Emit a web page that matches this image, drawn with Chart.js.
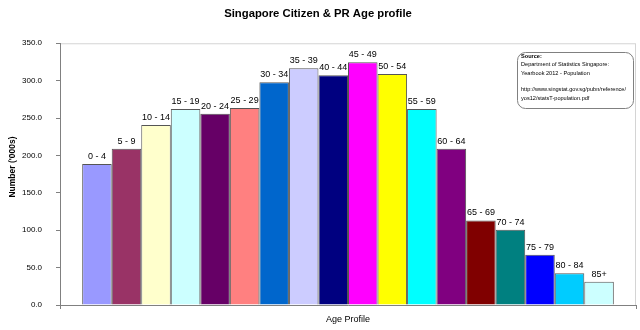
<!DOCTYPE html>
<html>
<head>
<meta charset="utf-8">
<script src="https://cdn.jsdelivr.net/npm/chart.js@4/dist/chart.umd.min.js"></script>
<style>
html,body{margin:0;padding:0;background:#fff;}
#wrap{width:640px;height:330px;}
</style>
</head>
<body>
<div id="wrap"><canvas id="ageChart"></canvas></div>
<script>
// Singapore Citizen & PR population by age group ('000s)

const ageGroups = [
"0 - 4","5 - 9","10 - 14","15 - 19","20 - 24","25 - 29",
"30 - 34","35 - 39","40 - 44","45 - 49","50 - 54","55 - 59",
"60 - 64","65 - 69","70 - 74","75 - 79","80 - 84","85+"
];

const populationK = [
188.6,209.0,240.6,262.0,255.7,263.3,
298.0,316.7,307.3,324.7,309.0,262.0,
209.0,113.0,100.6,67.2,42.3,31.2
];

const barColours = [
"#9999FF","#993366","#FFFFCC","#CCFFFF","#660066","#FF8080",
"#0066CC","#CCCCFF","#000080","#FF00FF","#FFFF00","#00FFFF",
"#800080","#800000","#008080","#0000FF","#00CCFF","#CCFFFF"
];

const sourceLines = [
"Source:",
"Department of Statistics Singapore:",
"Yearbook 2012 - Population",
"",
"http://www.singstat.gov.sg/pubn/reference/",
"yos12/statsT-population.pdf"
];

const yTitle = "Number ('000s)";

const FONT = "'Liberation Sans', Arial, sans-serif";

// plot area frame (light grey top/right)
const frame = {
id:"frame",
beforeDraw(chart){
const a = chart.chartArea, c = chart.ctx;
c.save();
c.strokeStyle = "#d4d4d4";
c.lineWidth = 1;
c.strokeRect(a.left+0.5, a.top+0.5, a.right-a.left-1, a.bottom-a.top);
c.restore();
}
};

// series names above each bar
const barNames = {
id:"barNames",
afterDatasetsDraw(chart){
const c = chart.ctx;
c.save();
c.font = "9px " + FONT;
c.fillStyle = "#000";
c.textAlign = "center";
c.textBaseline = "bottom";
chart.data.datasets.forEach((ds, i) => {
const bar = chart.getDatasetMeta(i).data[0];
c.fillText(ds.label, bar.x, bar.y - 3);
});
c.restore();
}
};

// y axis title, placed like the original (centred on the whole chart)
const yAxisTitle = {
id:"yAxisTitle",
afterDraw(chart){
const c = chart.ctx;
c.save();
c.translate(13, 167);
c.rotate(-Math.PI/2);
c.font = "bold 8.5px " + FONT;
c.fillStyle = "#000";
c.textAlign = "center";
c.textBaseline = "middle";
c.fillText(yTitle, 0, 0);
c.restore();
}
};

// source note box
const sourceBox = {
id:"sourceBox",
afterDraw(chart){
const c = chart.ctx;
const x = 517, y = 52, w = 116, h = 56;
c.save();
c.beginPath();
c.roundRect(x+0.5, y+0.5, w, h, 8);
c.fillStyle = "#fff";
c.fill();
c.strokeStyle = "#808080";
c.lineWidth = 1;
c.stroke();
c.fillStyle = "#000";
c.textBaseline = "middle";
sourceLines.forEach((t, i) => {
c.font = (i === 0 ? "bold " : "") + "5.6px " + FONT;
c.fillText(t, x + 4, y + 4.5 + i * 8.3);
});
c.restore();
}
};

new Chart(
document.getElementById("ageChart"),
{
type:"bar",

data:{
labels:[""],
datasets: ageGroups.map((g, i) => ({
label:g,
data:[populationK[i]],
backgroundColor:barColours[i],
borderColor:"#555",
borderWidth:1,
barPercentage:1,
categoryPercentage:0.923
}))
},

options:{
responsive:true,
maintainAspectRatio:false,
animation:false,
layout:{padding:{right:4}},
plugins:{
legend:{display:false},
tooltip:{enabled:false},
title:{
display:true,
text:"Singapore Citizen & PR Age profile",
color:"#000",
font:{family:FONT,size:11.3,weight:"bold"},
padding:{top:7,bottom:22.7}
}
},
scales:{
x:{
afterFit(s){ s.height = 25; },
grid:{display:true,drawOnChartArea:false,offset:true,tickLength:4,color:"#808080"},
border:{display:true,color:"#808080"},
ticks:{display:false},
title:{
display:true,
text:"Age Profile",
color:"#000",
font:{family:FONT,size:9},
padding:{top:0,bottom:5}
}
},
y:{
min:0,
max:350,
afterFit(s){ s.width = 60; },
grid:{display:true,drawOnChartArea:false,tickLength:4,color:"#808080"},
border:{display:true,color:"#808080"},
ticks:{
stepSize:50,
padding:14,
color:"#000",
font:{family:FONT,size:8},
callback:v => v.toFixed(1)
}
}
}
},

plugins:[frame, barNames, yAxisTitle, sourceBox]
}
);
</script>
</body>
</html>
